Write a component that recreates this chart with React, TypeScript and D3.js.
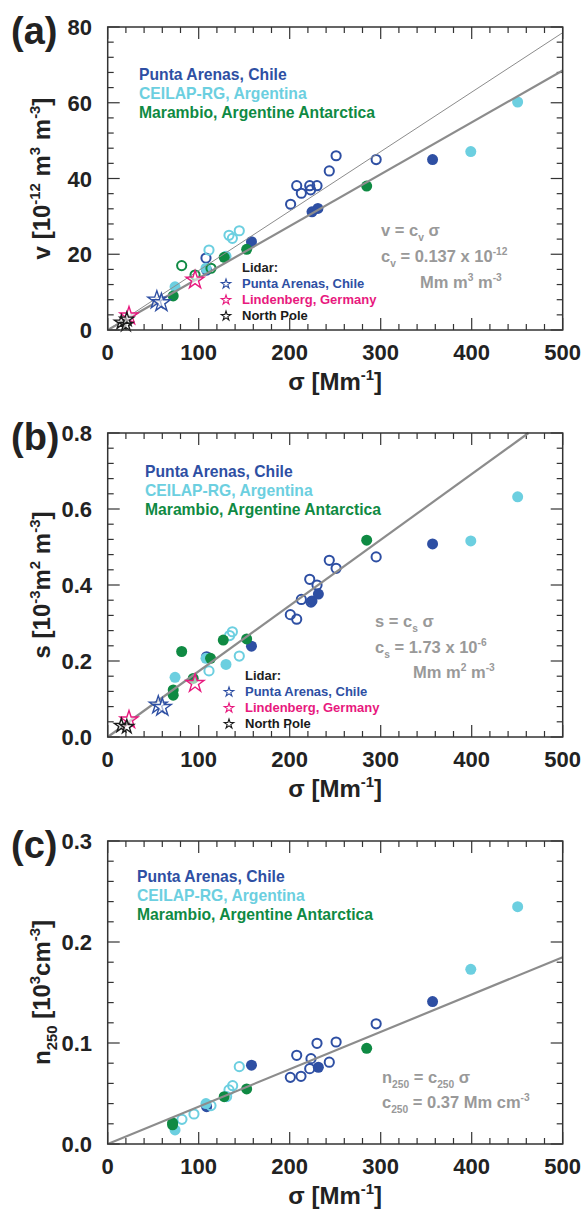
import React from 'react';
import * as d3 from 'd3';

// sites of the in-situ measurements
const sites = ['Punta Arenas, Chile', 'CEILAP-RG, Argentina', 'Marambio, Argentine Antarctica'];
const siteColors = ['#2e4fa3', '#6ccfe0', '#0f8a43'];
const lidarSites = ['Punta Arenas, Chile', 'Lindenberg, Germany', 'North Pole'];
const lidarColors = ['#2e4fa3', '#e8197e', '#1a1a1a'];

// [sigma, value, site, filled]
const pointsA = [
  [108.7, 15.8, 0, 1], [224.5, 31.2, 0, 1], [231, 32.1, 0, 1], [158, 23.3, 0, 1], [357, 45, 0, 1],
  [201, 33.2, 0, 0], [207.7, 38.1, 0, 0], [212.8, 36.1, 0, 0], [222, 38.1, 0, 0], [223, 37, 0, 0],
  [230, 38.1, 0, 0], [243.5, 42, 0, 0], [251, 46, 0, 0], [295, 45, 0, 0], [108, 19, 0, 0],
  [74, 11.4, 1, 1], [108, 16.3, 1, 1], [130, 19.5, 1, 1], [399, 47.1, 1, 1], [450.5, 60.2, 1, 1],
  [133.3, 25, 1, 0], [137, 24.2, 1, 0], [144.6, 26.2, 1, 0], [111.3, 21.1, 1, 0],
  [72, 9, 2, 1], [128, 19.2, 2, 1], [152.7, 21.3, 2, 1], [284.6, 38, 2, 1],
  [81.3, 17, 2, 0], [113.5, 16.3, 2, 0], [96, 14.5, 2, 0],
];
const pointsB = [
  [108.7, 0.211, 0, 0], [224.5, 0.358, 0, 1], [231.5, 0.376, 0, 1], [158, 0.239, 0, 1], [357, 0.508, 0, 1],
  [200.7, 0.322, 0, 0], [207.7, 0.31, 0, 0], [212.8, 0.362, 0, 0], [222, 0.415, 0, 0], [223.4, 0.355, 0, 0],
  [230, 0.4, 0, 0], [243.5, 0.465, 0, 0], [251, 0.444, 0, 0], [295, 0.474, 0, 0],
  [74, 0.157, 1, 1], [130, 0.191, 1, 1], [108, 0.207, 1, 1], [399, 0.516, 1, 1], [450.5, 0.632, 1, 1],
  [111.3, 0.174, 1, 0], [144.6, 0.213, 1, 0], [137, 0.277, 1, 0], [134, 0.267, 1, 0],
  [81.3, 0.225, 2, 1], [72, 0.124, 2, 1], [72, 0.11, 2, 1], [113, 0.207, 2, 1], [127, 0.255, 2, 1],
  [152.7, 0.258, 2, 1], [94, 0.154, 2, 1], [284.6, 0.518, 2, 1],
];
const pointsC = [
  [108.7, 0.037, 0, 1], [231.5, 0.076, 0, 1], [158, 0.078, 0, 1], [357, 0.141, 0, 1],
  [200.7, 0.066, 0, 0], [212.4, 0.067, 0, 0], [207.7, 0.0878, 0, 0], [222, 0.0746, 0, 0], [223.4, 0.0845, 0, 0],
  [230, 0.0997, 0, 0], [243.5, 0.081, 0, 0], [251, 0.101, 0, 0], [295, 0.119, 0, 0],
  [74, 0.0139, 1, 1], [108, 0.040, 1, 1], [399, 0.173, 1, 1], [450.5, 0.235, 1, 1],
  [81.6, 0.0244, 1, 0], [94.8, 0.0297, 1, 0], [113.5, 0.038, 1, 0], [130.7, 0.047, 1, 0],
  [133.3, 0.0535, 1, 0], [137.3, 0.0577, 1, 0], [144.6, 0.0766, 1, 0],
  [71.3, 0.021, 2, 1], [71.3, 0.019, 2, 1], [128, 0.0468, 2, 1], [152.7, 0.0545, 2, 1], [284.6, 0.0947, 2, 1],
];

// lidar stars [sigma, value, lidar site]
const starsA = [[54, 7.9, 0], [59, 7.2, 0], [96, 13.2, 1], [23.4, 3.7, 1], [15, 2.0, 2], [20, 1.4, 2], [21, 2.8, 2]];
const starsB = [[55.6, 0.084, 0], [60, 0.078, 0], [96, 0.141, 1], [23.4, 0.045, 1], [15, 0.03, 2], [21, 0.027, 2]];

// fitted slopes
const slopesA = [0.157, 0.137];
const slopesB = [0.00173];
const slopesC = [0.00037];

const FONT = '"Liberation Sans", Arial, Helvetica, sans-serif';
const GRAY = '#999999';

const Rich = ({segs, size}) => {
  // segs: [text, 'sup'|'sub'|undefined]
  const out = [];
  let shift = 0;
  segs.forEach(([t, k], i) => {
    const target = k === 'sup' ? -size * 0.42 : k === 'sub' ? size * 0.3 : 0;
    out.push(
      <tspan key={i} dy={target - shift} fontSize={k ? size * 0.62 : size}>{t}</tspan>
    );
    shift = target;
  });
  return out;
};

const Panel = ({top, bottom, yMax, yStep, yMinor, yFmt, letter, yTitle, points, stars, slopes, legendX, legendY, lidarPos, notes}) => {
  const x = d3.scaleLinear().domain([0, 500]).range([107.7, 562.7]);
  const y = d3.scaleLinear().domain([0, yMax]).range([bottom, top]);
  const xMaj = d3.range(0, 501, 100);
  const xMin = d3.range(0, 501, 20);
  const yMaj = d3.range(0, yMax + yStep / 2, yStep);
  const yMin = d3.range(0, yMax + yMinor / 2, yMinor);
  const star = d3.symbol(d3.symbolStar);
  const midY = (top + bottom) / 2;
  return (
    <g fontFamily={FONT} fontWeight="bold">
      {/* ticks, inward on all sides */}
      <g stroke="#333" strokeWidth={1.2}>
        {xMin.map(v => {
          const L = v % 100 === 0 ? 12 : 6;
          return <g key={'x' + v}>
            <line x1={x(v)} x2={x(v)} y1={bottom} y2={bottom - L} />
            <line x1={x(v)} x2={x(v)} y1={top} y2={top + L} />
          </g>;
        })}
        {yMin.map((v, i) => {
          const L = yMaj.some(m => Math.abs(m - v) < 1e-9) ? 12 : 6;
          return <g key={'y' + i}>
            <line x1={x(0)} x2={x(0) + L} y1={y(v)} y2={y(v)} />
            <line x1={x(500)} x2={x(500) - L} y1={y(v)} y2={y(v)} />
          </g>;
        })}
      </g>
      {/* circles */}
      {points.map(([s, v, k, f], i) => (
        <circle key={'p' + i} cx={x(s)} cy={y(v)} r={f ? 5.5 : 4.6}
          fill={f ? siteColors[k] : 'none'} stroke={siteColors[k]} strokeWidth={f ? 0 : 2} />
      ))}
      {/* fit lines */}
      {slopes.map((m, i) => {
        const xe = Math.min(500, yMax / m);
        return <line key={'l' + i} x1={x(0)} y1={y(0)} x2={x(xe)} y2={y(m * xe)}
          stroke="#8c8c8c"
          strokeWidth={i === 0 && slopes.length > 1 ? 1 : 2.2} />;
      })}
      {/* lidar stars */}
      {stars.map(([s, v, k], i) => (
        <path key={'s' + i} d={star.size(k === 2 ? 60 : 100)()} transform={`translate(${x(s)},${y(v)})`}
          fill="white" fillOpacity={0.6} stroke={lidarColors[k]} strokeWidth={1.4} />
      ))}
      {/* frame */}
      <rect x={x(0)} y={top} width={x(500) - x(0)} height={bottom - top} fill="none" stroke="#333" strokeWidth={1.5} />
      {/* tick labels */}
      {xMaj.map(v => (
        <text key={'xl' + v} x={x(v)} y={bottom + 30} textAnchor="middle" fontSize={22} fill="#222">{v}</text>
      ))}
      {yMaj.map((v, i) => (
        <text key={'yl' + i} x={92} y={y(v) + 8} textAnchor="end" fontSize={22} fill="#222">{yFmt(v)}</text>
      ))}
      <text x={x(250)} y={bottom + 60} textAnchor="middle" fontSize={24} fill="#222">
        <Rich size={24} segs={[['σ [Mm'], ['-1', 'sup'], [']']]} />
      </text>
      <text transform={`translate(50,${midY}) rotate(-90)`} textAnchor="middle" fontSize={24} fill="#222">
        <Rich size={24} segs={yTitle} />
      </text>
      <text x={11} y={top + 17} fontSize={38} fill="#222">{letter}</text>
      {/* site legend */}
      {sites.map((s, i) => (
        <text key={'lg' + i} x={legendX} y={legendY + i * 19} fontSize={15.7} fill={siteColors[i]}>{s}</text>
      ))}
      {/* lidar legend */}
      {lidarPos && <g fontSize={13}>
        <text x={lidarPos[0]} y={lidarPos[1]} fill="#222">Lidar:</text>
        {lidarSites.map((s, i) => (
          <g key={'ld' + i}>
            <path d={star.size(28)()} transform={`translate(${lidarPos[0] - 16},${lidarPos[1] + 16 * (i + 1) - 4})`}
              fill="none" stroke={lidarColors[i]} strokeWidth={1.1} />
            <text x={lidarPos[0]} y={lidarPos[1] + 16 * (i + 1)} fill={lidarColors[i]}>{s}</text>
          </g>
        ))}
      </g>}
      {/* fit notes */}
      {notes.map(([nx, ny, segs], i) => (
        <text key={'n' + i} x={nx} y={ny} fontSize={16.5} fill={GRAY}>
          <Rich size={16.5} segs={segs} />
        </text>
      ))}
    </g>
  );
};

export default function App() {
  return (
    <svg width={583} height={1220} style={{position: 'absolute', left: 0, top: 0, background: 'white'}}>
      <Panel top={27} bottom={330} yMax={80} yStep={20} yMinor={4} yFmt={v => String(v)} letter="(a)"
        yTitle={[['v [10'], ['-12', 'sup'], [' m'], ['3', 'sup'], [' m'], ['-3', 'sup'], [']']]}
        points={pointsA} stars={starsA} slopes={slopesA} legendX={139} legendY={80}
        lidarPos={[242, 272]}
        notes={[
          [381, 236, [['v = c'], ['v', 'sub'], [' σ']]],
          [381, 262, [['c'], ['v', 'sub'], [' = 0.137 x 10'], ['-12', 'sup']]],
          [420, 288, [['Mm m'], ['3', 'sup'], [' m'], ['-3', 'sup']]],
        ]} />
      <Panel top={433} bottom={737} yMax={0.8} yStep={0.2} yMinor={0.04} yFmt={v => v.toFixed(1)} letter="(b)"
        yTitle={[['s [10'], ['-3', 'sup'], ['m'], ['2', 'sup'], [' m'], ['-3', 'sup'], [']']]}
        points={pointsB} stars={starsB} slopes={slopesB} legendX={145} legendY={477}
        lidarPos={[245, 680]}
        notes={[
          [375, 627, [['s = c'], ['s', 'sub'], [' σ']]],
          [375, 653, [['c'], ['s', 'sub'], [' = 1.73 x 10'], ['-6', 'sup']]],
          [413, 678, [['Mm m'], ['2', 'sup'], [' m'], ['-3', 'sup']]],
        ]} />
      <Panel top={841} bottom={1144} yMax={0.3} yStep={0.1} yMinor={0.02} yFmt={v => v.toFixed(1)} letter="(c)"
        yTitle={[['n'], ['250', 'sub'], [' [10'], ['3', 'sup'], ['cm'], ['-3', 'sup'], [']']]}
        points={pointsC} stars={[]} slopes={slopesC} legendX={137} legendY={882}
        lidarPos={null}
        notes={[
          [382, 1083, [['n'], ['250', 'sub'], [' = c'], ['250', 'sub'], [' σ']]],
          [382, 1108, [['c'], ['250', 'sub'], [' = 0.37 Mm cm'], ['-3', 'sup']]],
        ]} />
    </svg>
  );
}
